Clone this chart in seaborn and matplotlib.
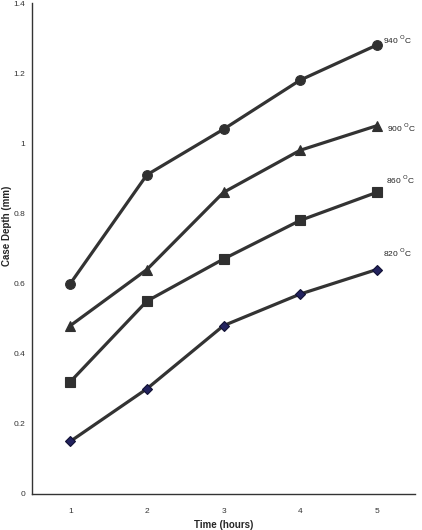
import matplotlib
matplotlib.use("Agg")
import matplotlib.pyplot as plt
import seaborn as sns
import pandas as pd
from matplotlib.ticker import FixedLocator, NullFormatter

sns.set_theme(style="white")
plt.rcParams['font.family'] = ['Liberation Sans', 'DejaVu Sans']

hours = [1, 2, 3, 4, 5]
depth_940 = [0.60, 0.91, 1.04, 1.18, 1.28]
depth_900 = [0.48, 0.64, 0.86, 0.98, 1.05]
depth_860 = [0.32, 0.55, 0.67, 0.78, 0.86]
depth_820 = [0.15, 0.30, 0.48, 0.57, 0.64]
temps = ["940", "900", "860", "820"]
y_ticks = [0, 0.2, 0.4, 0.6, 0.8, 1, 1.2, 1.4]
y_tick_labels = ["0", "0.2", "0.4", "0.6", "0.8", "1", "1.2", "1.4"]

series = [depth_940, depth_900, depth_860, depth_820]
markers = ["o", "^", "s", "D"]
face = ["#303030", "#303030", "#303030", "#22225e"]
edge = ["#303030", "#303030", "#303030", "#111133"]
msize = [7, 7.5, 7, 5.5]
label_pos = [(5.08, 1.294), (5.14, 1.043), (5.12, 0.897), (5.08, 0.689)]

fig = plt.figure(figsize=(4.22, 5.30), dpi=100)
ax = fig.add_axes([32/422, 36/530, 383/422, 491/530])

for vals, m, fc, ec, ms in zip(series, markers, face, edge, msize):
    df = pd.DataFrame({"Time": hours, "Depth": vals})
    sns.lineplot(data=df, x="Time", y="Depth", ax=ax, color="#333333",
                 linewidth=2.3, marker=m, markersize=ms,
                 markerfacecolor=fc, markeredgecolor=ec, markeredgewidth=0.8)

for t, (lx, ly) in zip(temps, label_pos):
    ax.text(lx, ly, t + r" $^{\rm O}$C", fontsize=6, color="#222222",
            ha="left", va="center")

ax.set_xlim(0.5, 5.5)
ax.set_ylim(0, 1.4)
ax.set_yticks(y_ticks)
ax.set_yticklabels(y_tick_labels)
ax.set_xticks(hours)
ax.set_xticklabels([str(h) for h in hours])
ax.xaxis.set_minor_locator(FixedLocator([0.5, 1.5, 2.5, 3.5, 4.5, 5.5]))
ax.xaxis.set_minor_formatter(NullFormatter())
ax.tick_params(axis="x", which="major", length=0, pad=10, labelsize=6, colors="#333333")
ax.tick_params(axis="x", which="minor", length=3, width=0.8, direction="out", color="#333333")
ax.tick_params(axis="y", which="major", length=3, width=0.8, direction="out",
               labelsize=6, pad=2, color="#333333", labelcolor="#333333")

for s in ["top", "right"]:
    ax.spines[s].set_visible(False)
for s in ["left", "bottom"]:
    ax.spines[s].set_color("#333333")
    ax.spines[s].set_linewidth(1.0)

ax.set_xlabel("Time (hours)", fontsize=7, fontweight="bold")
ax.set_ylabel("Case Depth (mm)", fontsize=7, fontweight="bold")
ax.xaxis.set_label_coords(0.5, -26/491)
ax.yaxis.set_label_coords(-20/383, 0.546)
ax.grid(False)

fig.savefig("out.png", dpi=100)
